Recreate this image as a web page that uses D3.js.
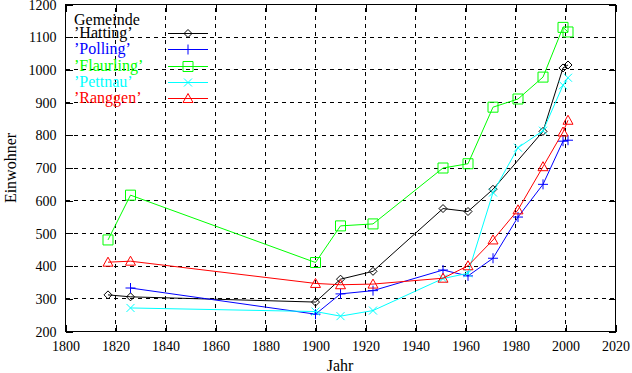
<!DOCTYPE html>
<html>
<head>
<meta charset="utf-8">
<script src="https://cdn.jsdelivr.net/npm/d3@7"></script>
<style>
  body { margin: 0; background: #fff; }
  svg { display: block; }
  text { font-family: "Liberation Serif", "Times New Roman", serif; font-size: 16px; }
</style>
</head>
<body>
<div id="chart"></div>
<script>
// census years and inhabitants per municipality
var hattingYears = [1817, 1826, 1900, 1910, 1923, 1951, 1961, 1971, 1991, 1999, 2001];
var hattingValues = [312, 306, 290, 360, 384, 576, 567, 635, 812, 1006, 1015];

var pollingYears = [1826, 1900, 1910, 1923, 1951, 1961, 1971, 1981, 1991, 1999, 2001];
var pollingValues = [333, 253, 315, 325, 388, 370, 424, 550, 650, 782, 785];

var flaurlingYears = [1817, 1826, 1900, 1910, 1923, 1951, 1961, 1971, 1981, 1991, 1999, 2001];
var flaurlingValues = [480, 617, 411, 523, 529, 700, 713, 886, 911, 978, 1130, 1116];

var pettnauYears = [1826, 1900, 1910, 1923, 1951, 1961, 1971, 1981, 1991, 1999, 2001];
var pettnauValues = [272, 261, 247, 264, 362, 378, 625, 762, 814, 953, 976];

var ranggenYears = [1817, 1826, 1900, 1910, 1923, 1951, 1961, 1971, 1981, 1991, 1999, 2001];
var ranggenValues = [412, 415, 347, 343, 345, 363, 401, 480, 572, 704, 810, 846];

var seriesNames = ["\u2019Hatting\u2019", "\u2019Polling\u2019", "\u2019Flaurling\u2019", "\u2019Pettnau\u2019", "\u2019Ranggen\u2019"];
var xTicks = d3.range(1800, 2021, 20);
var yTicks = d3.range(200, 1201, 100);

var width = 632, height = 373;

var svg = d3.select("#chart").append("svg")
    .attr("width", width)
    .attr("height", height);

var xScale = d3.scaleLinear().domain([1800, 2020]).range([65.5, 615.5]);
var yScale = d3.scaleLinear().domain([200, 1200]).range([331.5, 4.5]);

var series = [
    { name: seriesNames[0], years: hattingYears, values: hattingValues, color: "#000000", marker: "diamond" },
    { name: seriesNames[1], years: pollingYears, values: pollingValues, color: "#0000ff", marker: "plus" },
    { name: seriesNames[2], years: flaurlingYears, values: flaurlingValues, color: "#00ff00", marker: "square" },
    { name: seriesNames[3], years: pettnauYears, values: pettnauValues, color: "#00ffff", marker: "cross" },
    { name: seriesNames[4], years: ranggenYears, values: ranggenValues, color: "#ff0000", marker: "triangle" }
];

// gnuplot style point symbols
function markerPath(type) {
    switch (type) {
        case "diamond": return "M0,-4L4,0L0,4L-4,0Z";
        case "plus": return "M-5,0H5M0,-5V5";
        case "square": return "M-5,-5H5V5H-5Z";
        case "cross": return "M-4,-4L4,4M-4,4L4,-4";
        case "triangle": return "M0,-5L5,4H-5Z";
    }
}

// grid
var grid = svg.append("g").attr("class", "grid")
    .attr("stroke", "#000").attr("stroke-dasharray", "4,4").attr("shape-rendering", "crispEdges");
grid.selectAll(".vgrid")
    .data(xTicks.slice(1, -1))
    .enter().append("line")
    .attr("x1", function (d) { return xScale(d); })
    .attr("x2", function (d) { return xScale(d); })
    .attr("y1", yScale(200))
    .attr("y2", yScale(1200));
grid.selectAll(".hgrid")
    .data(yTicks.slice(1, -1))
    .enter().append("line")
    .attr("x1", xScale(1800))
    .attr("x2", xScale(2020))
    .attr("y1", function (d) { return yScale(d); })
    .attr("y2", function (d) { return yScale(d); });

// axes, ticks pointing inward, mirrored on top and right
var xAxis = svg.append("g")
    .attr("transform", "translate(0," + yScale(200) + ")")
    .call(d3.axisBottom(xScale).tickValues(xTicks).tickFormat(d3.format("d")).tickSize(-7).tickSizeOuter(0));
xAxis.selectAll("text").attr("dy", null).attr("y", 19);

var yAxis = svg.append("g")
    .attr("transform", "translate(" + xScale(1800) + ",0)")
    .call(d3.axisLeft(yScale).tickValues(yTicks).tickFormat(d3.format("d")).tickSize(-7).tickSizeOuter(0).tickPadding(9));
yAxis.selectAll("text").attr("dy", "0.33em");

svg.append("g")
    .attr("transform", "translate(0," + yScale(1200) + ")")
    .call(d3.axisTop(xScale).tickValues(xTicks).tickFormat("").tickSize(-7).tickSizeOuter(0));
svg.append("g")
    .attr("transform", "translate(" + xScale(2020) + ",0)")
    .call(d3.axisRight(yScale).tickValues(yTicks).tickFormat("").tickSize(-7).tickSizeOuter(0));

svg.selectAll(".domain").remove();
svg.selectAll(".tick line").attr("shape-rendering", "crispEdges");
svg.selectAll(".tick text").attr("fill", "#000").style("font-size", "14px")
    .style("font-family", "'Liberation Serif', serif");

svg.append("rect")
    .attr("x", xScale(1800)).attr("y", yScale(1200))
    .attr("width", xScale(2020) - xScale(1800))
    .attr("height", yScale(200) - yScale(1200))
    .attr("fill", "none").attr("stroke", "#000").attr("shape-rendering", "crispEdges");

// axis titles
svg.append("text")
    .attr("x", 340).attr("y", 371)
    .attr("text-anchor", "middle")
    .text("Jahr");
svg.append("text")
    .attr("transform", "translate(16,168) rotate(-90)")
    .attr("text-anchor", "middle")
    .text("Einwohner");

// lines and points
var line = d3.line()
    .x(function (d) { return xScale(d.year); })
    .y(function (d) { return yScale(d.value); });

series.forEach(function (s) {
    var pts = s.years.map(function (y, i) { return { year: y, value: s.values[i] }; });
    svg.append("path")
        .datum(pts)
        .attr("fill", "none")
        .attr("stroke", s.color)
        .attr("stroke-width", 1)
        .attr("d", line);
    svg.selectAll(".pt-" + s.marker)
        .data(pts)
        .enter().append("path")
        .attr("class", "pt-" + s.marker)
        .attr("transform", function (d) { return "translate(" + xScale(d.year) + "," + yScale(d.value) + ")"; })
        .attr("d", markerPath(s.marker))
        .attr("fill", "none")
        .attr("stroke", s.color);
});

// legend
var legend = svg.append("g").attr("transform", "translate(74,0)");
legend.append("text").attr("x", 0).attr("y", 25).text("Gemeinde");
series.forEach(function (s, i) {
    var y = Math.round(33 + i * 16.25) + 0.5;
    legend.append("text")
        .attr("x", 0).attr("y", y + 4.5)
        .attr("fill", s.color)
        .text(s.name);
    legend.append("line")
        .attr("x1", 94).attr("x2", 134)
        .attr("y1", y).attr("y2", y)
        .attr("stroke", s.color)
        .attr("shape-rendering", "crispEdges");
    legend.append("path")
        .attr("transform", "translate(114," + y + ")")
        .attr("d", markerPath(s.marker))
        .attr("fill", "none")
        .attr("stroke", s.color);
});
</script>
</body>
</html>
